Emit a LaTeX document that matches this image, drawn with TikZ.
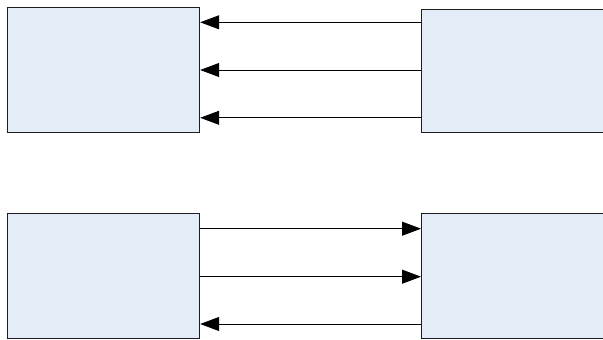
\documentclass[tikz,border=0pt]{standalone}
\usetikzlibrary{arrows.meta}
\definecolor{boxfill}{RGB}{228,236,247}
\definecolor{edge}{RGB}{30,30,30}
\begin{document}
\begin{tikzpicture}[x=1pt,y=1pt,
  blk/.style={draw=edge,fill=boxfill,line width=0.9pt,inner sep=0pt,anchor=north west},
  arr/.style={draw=black,line width=0.8pt,-{Triangle[length=19pt,width=14pt]}}]
\useasboundingbox (0,0) rectangle (603,-340);
\clip (0,0) rectangle (603,-340);
\node[blk,minimum width=192pt,minimum height=125pt] (L1) at (7.3,-7.3) {};
\node[blk,minimum width=190pt,minimum height=123.5pt] (R1) at (421,-8.5) {};
\node[blk,minimum width=192pt,minimum height=125pt] (L2) at (7.3,-213.3) {};
\node[blk,minimum width=190pt,minimum height=125pt] (R2) at (421,-213.3) {};
\draw[arr] (R1.west |- 0,-22.3) -- (L1.east |- 0,-22.3);
\draw[arr] (R1.west |- 0,-70) -- (L1.east |- 0,-70);
\draw[arr] (R1.west |- 0,-117.8) -- (L1.east |- 0,-117.8);
\draw[arr] (L2.east |- 0,-228.7) -- (R2.west |- 0,-228.7);
\draw[arr] (L2.east |- 0,-276.7) -- (R2.west |- 0,-276.7);
\draw[arr] (R2.west |- 0,-324) -- (L2.east |- 0,-324);
\end{tikzpicture}
\end{document}
